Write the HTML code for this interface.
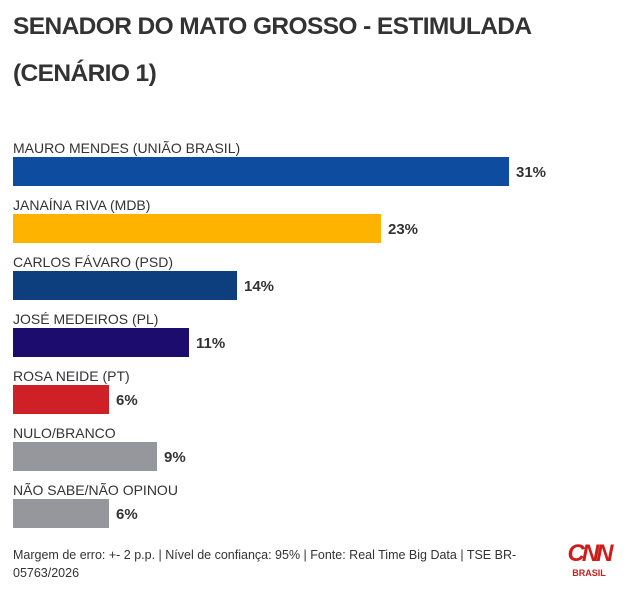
<!DOCTYPE html><html><head><meta charset="utf-8"><style>
body{margin:0;width:627px;height:602px;background:#fff;font-family:"Liberation Sans",sans-serif;color:#333;position:relative;overflow:hidden}
.t{position:absolute;left:13px;top:3px;font-size:24.5px;font-weight:bold;line-height:47px;color:#333;letter-spacing:-0.6px}
.l{position:absolute;left:13px;font-size:14px;color:#333}
.b{position:absolute;left:13px;height:29px}
.v{position:absolute;font-size:15px;font-weight:bold;color:#333}
.f{position:absolute;left:13px;top:546px;font-size:12.5px;line-height:18px;color:#333;width:540px}
</style></head><body>
<div class="t">SENADOR DO MATO GROSSO - ESTIMULADA<br>(CENÁRIO 1)</div>
<div class="l" style="top:140px">MAURO MENDES (UNIÃO BRASIL)</div>
<div class="b" style="top:157px;width:496px;background:#0d4c9e"></div><div class="v" style="top:164px;left:516px">31%</div>
<div class="l" style="top:197px">JANAÍNA RIVA (MDB)</div>
<div class="b" style="top:214px;width:368px;background:#fdb300"></div><div class="v" style="top:221px;left:388px">23%</div>
<div class="l" style="top:254px">CARLOS FÁVARO (PSD)</div>
<div class="b" style="top:271px;width:224px;background:#0d3f7f"></div><div class="v" style="top:278px;left:244px">14%</div>
<div class="l" style="top:311px">JOSÉ MEDEIROS (PL)</div>
<div class="b" style="top:328px;width:176px;background:#1c0c6d"></div><div class="v" style="top:335px;left:196px">11%</div>
<div class="l" style="top:368px">ROSA NEIDE (PT)</div>
<div class="b" style="top:385px;width:96px;background:#d02027"></div><div class="v" style="top:392px;left:116px">6%</div>
<div class="l" style="top:425px">NULO/BRANCO</div>
<div class="b" style="top:442px;width:144px;background:#95979c"></div><div class="v" style="top:449px;left:164px">9%</div>
<div class="l" style="top:482px">NÃO SABE/NÃO OPINOU</div>
<div class="b" style="top:499px;width:96px;background:#95979c"></div><div class="v" style="top:506px;left:116px">6%</div>
<div class="f">Margem de erro: +- 2 p.p. | Nível de confiança: 95% | Fonte: Real Time Big Data | TSE BR-05763/2026</div>
<div style="position:absolute;left:566px;top:542px;width:46px;text-align:center;color:#d01b1b;font-weight:bold;font-size:24px;line-height:24px;letter-spacing:-3px;font-style:italic">CNN</div>
<div style="position:absolute;left:566px;top:568px;width:46px;text-align:center;color:#d01b1b;font-weight:bold;font-size:9px">BRASIL</div>
</body></html>
